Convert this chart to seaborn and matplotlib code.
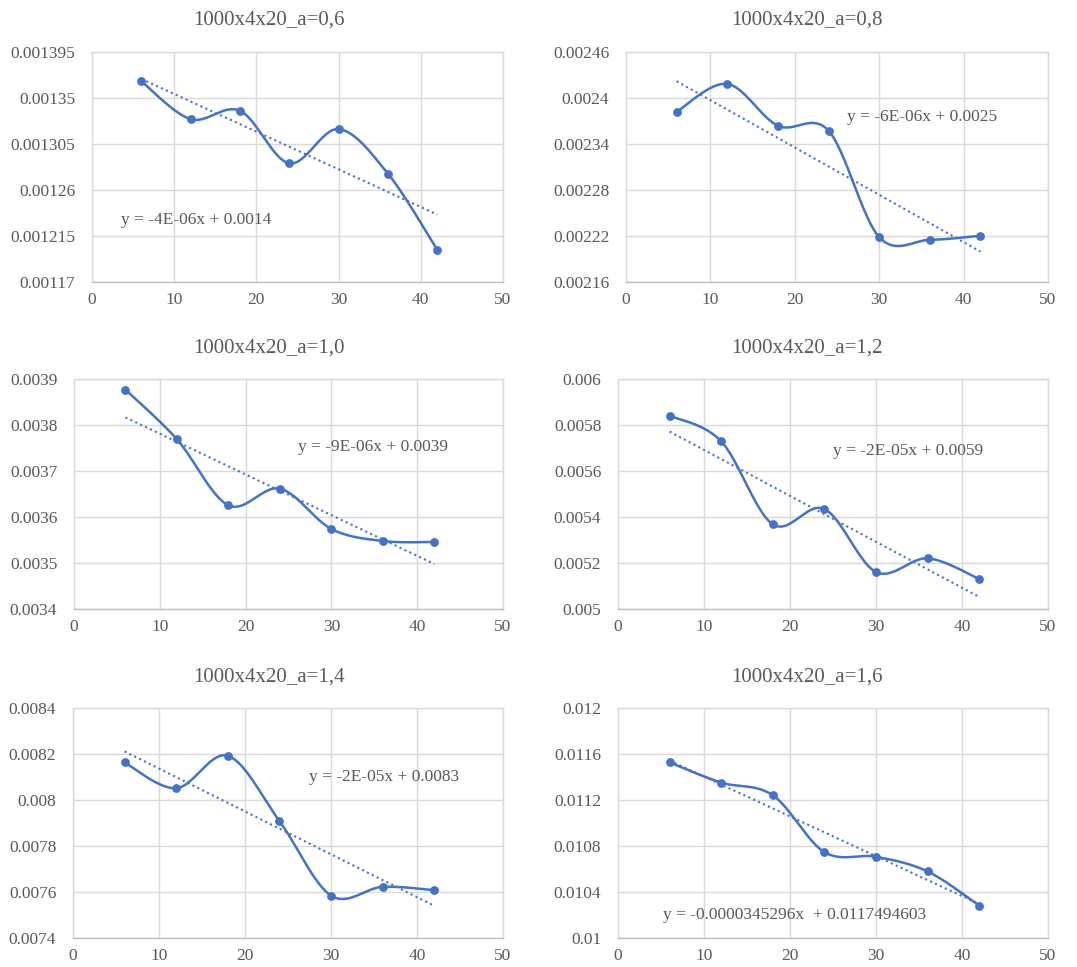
import numpy as np
import pandas as pd
import matplotlib
matplotlib.use("Agg")
import matplotlib.pyplot as plt
import seaborn as sns

# ---------------- data ----------------
x_vals = [6, 12, 18, 24, 30, 36, 42]
titles = ["1000x4x20_a=0,6", "1000x4x20_a=0,8", "1000x4x20_a=1,0",
          "1000x4x20_a=1,2", "1000x4x20_a=1,4", "1000x4x20_a=1,6"]
y_a06 = [0.0013664, 0.0013293, 0.0013375, 0.0012861, 0.0013196, 0.0012760, 0.0012015]
y_a08 = [0.0023820, 0.0024184, 0.0023638, 0.0023573, 0.0022185, 0.0022150, 0.0022203]
y_a10 = [0.0038768, 0.0037688, 0.0036254, 0.0036616, 0.0035740, 0.0035478, 0.0035457]
y_a12 = [0.0058406, 0.0057290, 0.0053681, 0.0054348, 0.0051609, 0.0052203, 0.0051304]
y_a14 = [0.0081631, 0.0080512, 0.0081922, 0.0079087, 0.0075846, 0.0076224, 0.0076078]
y_a16 = [0.0115262, 0.0113517, 0.0112413, 0.0107471, 0.0107064, 0.0105785, 0.0102820]
series = [y_a06, y_a08, y_a10, y_a12, y_a14, y_a16]
equations = ["y = -4E-06x + 0.0014", "y = -6E-06x + 0.0025", "y = -9E-06x + 0.0039",
             "y = -2E-05x + 0.0059", "y = -2E-05x + 0.0083",
             "y = -0.0000345296x  + 0.0117494603"]
y_min = [0.00117, 0.00216, 0.0034, 0.005, 0.0074, 0.01]
y_max = [0.001395, 0.00246, 0.0039, 0.006, 0.0084, 0.012]
y_step = [0.000045, 0.00006, 0.0001, 0.0002, 0.0002, 0.0004]
x_ticks = [0, 10, 20, 30, 40, 50]

# ---------------- style ----------------
sns.set_theme(style="white")
plt.rcParams['font.family'] = ['Liberation Serif', 'DejaVu Serif']
BLUE = "#4472C4"
TXT = "#595959"
GRID = "#D9D9D9"

W, H = 1077, 967
fig = plt.figure(figsize=(W / 100, H / 100), dpi=100)

# axes rectangles in pixels: left, top, right, bottom
rects = [(92, 52, 503, 282), (626, 52, 1048, 282),
         (74, 379, 503, 609), (618, 379, 1048, 609),
         (73, 708, 503, 938), (618, 708, 1048, 938)]
title_y = [20, 20, 348, 348, 677, 677]
title_x = [269, 807]
eq_pos = [(3.5, 0.0012308), (26.2, 0.0023746), (26.1, 0.0037514),
          (25.0, 0.0056884), (27.4, 0.008102), (5.2, 0.0101977)]


def smooth(xs, ys, n=30):
    """Excel-like smoothed line (cubic Bezier with Catmull-Rom controls)."""
    P = np.column_stack([xs, ys]).astype(float)
    out = []
    for i in range(len(P) - 1):
        p0 = P[i - 1] if i > 0 else P[i]
        p1, p2 = P[i], P[i + 1]
        p3 = P[i + 2] if i + 2 < len(P) else P[i + 1]
        c1 = p1 + (p2 - p0) / 6.0
        c2 = p2 - (p3 - p1) / 6.0
        t = np.linspace(0, 1, n)[:, None]
        seg = ((1 - t) ** 3) * p1 + 3 * ((1 - t) ** 2) * t * c1 + 3 * (1 - t) * t ** 2 * c2 + t ** 3 * p2
        out.append(seg if i == 0 else seg[1:])
    return np.vstack(out)


def fmt(v):
    return f"{v:.6f}".rstrip('0')


for k in range(6):
    l, t, r, b = rects[k]
    ax = fig.add_axes([l / W, (H - b) / H, (r - l) / W, (b - t) / H])
    df = pd.DataFrame({"x": x_vals, "y": series[k]})
    sm = smooth(df["x"].values, df["y"].values)
    sdf = pd.DataFrame({"x": sm[:, 0], "y": sm[:, 1]})
    sns.lineplot(data=sdf, x="x", y="y", ax=ax, color=BLUE, linewidth=1.8,
                 sort=False, estimator=None, zorder=3)
    sns.scatterplot(data=df, x="x", y="y", ax=ax, color=BLUE, s=40,
                    edgecolor=BLUE, linewidth=0, zorder=4)
    sns.regplot(data=df, x="x", y="y", ax=ax, scatter=False, ci=None,
                truncate=True,
                line_kws=dict(color=BLUE, linestyle=(0, (1, 1.6)), linewidth=1.5, zorder=2))

    yt = np.round(np.arange(y_min[k], y_max[k] + y_step[k] / 2, y_step[k]), 7)
    ax.set_xlim(0, 50)
    ax.set_ylim(y_min[k], y_max[k])
    ax.set_xticks(x_ticks)
    ax.set_xticklabels([str(v) for v in x_ticks])
    ax.set_yticks(yt)
    ax.set_yticklabels([fmt(v) for v in yt])
    ax.tick_params(axis='y', labelsize=12.5, colors=TXT, length=0, pad=12)
    ax.tick_params(axis='x', labelsize=12.5, colors=TXT, length=0, pad=7)
    ax.grid(True, color=GRID, linewidth=1.0)
    ax.set_axisbelow(True)
    for sp in ax.spines.values():
        sp.set_color(GRID)
        sp.set_linewidth(1.0)
    ax.spines['bottom'].set_color("#BFBFBF")
    ax.set_xlabel("")
    ax.set_ylabel("")
    ax.text(eq_pos[k][0], eq_pos[k][1], equations[k], fontsize=12.5, color=TXT,
            ha='left', va='center', zorder=5)
    fig.text(title_x[k % 2] / W, 1 - title_y[k] / H, titles[k], fontsize=15,
             color=TXT, ha='center', va='center')

fig.savefig("out.png", dpi=100, facecolor="white")
